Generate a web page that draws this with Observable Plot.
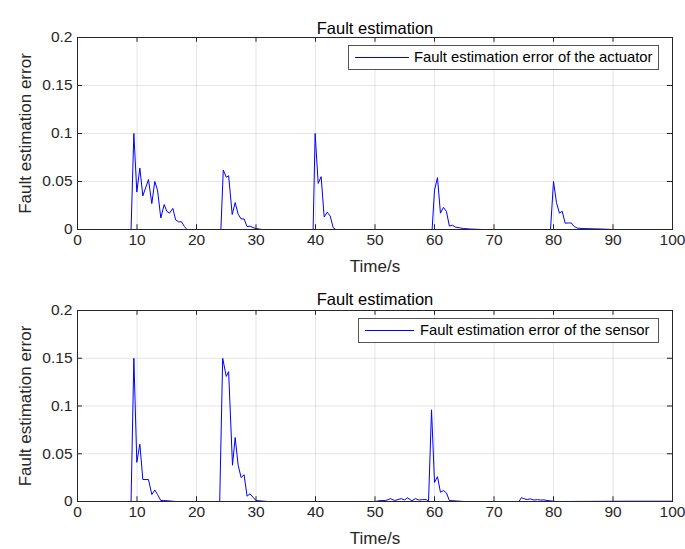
<!DOCTYPE html>
<html>
<head>
<meta charset="utf-8">
<script src="https://cdn.jsdelivr.net/npm/d3@7"></script>
<script src="https://cdn.jsdelivr.net/npm/@observablehq/plot@0.6"></script>
<style>
  body { margin: 0; background: #fff; }
  #wrap { position: relative; width: 685px; height: 549px; font-family: "Liberation Sans", Arial, sans-serif; color: #262626; }
  #wrap svg { display: block; overflow: visible; }
  .legend { position: absolute; background: #fff; border: 1px solid #555; box-sizing: border-box; height: 25px; }
  .legend .sample { position: absolute; top: 11px; height: 1px; background: #0000ff; }
  .legend .lab { position: absolute; top: 3px; font-size: 14.8px; white-space: nowrap; color: #000; }
</style>
</head>
<body>
<div id="wrap"></div>
<script>
// ---- data ----
const chartTitle = "Fault estimation";
const xLabel = "Time/s";
const yLabel = "Fault estimation error";
const xTicks = [0, 10, 20, 30, 40, 50, 60, 70, 80, 90, 100];
const yTicks = [0, 0.05, 0.1, 0.15, 0.2];

const actuatorName = "Fault estimation error of the actuator";
const actuatorTime = [0, 9.0, 9.47, 9.97, 10.48, 10.98, 11.93, 12.49, 12.99, 13.45, 14.0, 14.57, 15.0, 15.46, 16.02, 16.5, 17.0, 17.48, 17.98, 18.4,
  24.1, 24.5, 25.0, 25.4, 26.0, 26.5, 27.0, 27.5, 28.0, 28.5, 29.0, 29.5, 30.0, 31.0,
  39.6, 39.94, 40.45, 40.95, 41.46, 41.97, 42.47, 42.97, 43.4,
  59.6, 60.0, 60.5, 61.0, 61.5, 62.0, 62.5, 63.0, 63.5, 64.4, 64.9, 66.0, 68.0,
  79.5, 80.0, 80.5, 81.0, 81.46, 81.96, 82.5, 83.0, 83.5, 84.0, 84.8, 88.0, 90.0, 100];
const actuatorErr = [0, 0, 0.1, 0.039, 0.064, 0.035, 0.052, 0.027, 0.05, 0.041, 0.012, 0.026, 0.019, 0.017, 0.022, 0.01, 0.008, 0.008, 0.003, 0,
  0, 0.062, 0.0545, 0.056, 0.0156, 0.028, 0.016, 0.011, 0.011, 0.003, 0.0035, 0.002, 0.001, 0,
  0, 0.1, 0.048, 0.055, 0.013, 0.018, 0.014, 0.002, 0,
  0, 0.041, 0.054, 0.017, 0.023, 0.019, 0.0035, 0.0045, 0.0025, 0.0015, 0.001, 0.0005, 0,
  0, 0.05, 0.028, 0.017, 0.019, 0.0066, 0.0068, 0.0068, 0.003, 0.0015, 0.001, 0.0005, 0, 0];

const sensorName = "Fault estimation error of the sensor";
const sensorTime = [0, 9.0, 9.47, 9.97, 10.48, 10.98, 11.93, 12.49, 13.0, 13.45, 14.0, 14.5, 15.6, 16.5,
  23.9, 24.4, 25.0, 25.4, 26.05, 26.5, 27.0, 27.5, 28.0, 28.5, 29.0, 29.5, 30.0, 31.0, 32.0,
  50.0, 50.9, 51.8, 52.6, 53.3, 54.4, 55.0, 55.4, 56.2, 56.8, 57.4, 58.0, 58.6, 59.0,
  59.5, 60.0, 60.5, 61.0, 61.5, 62.0, 62.5, 63.8, 65.0,
  74.2, 74.6, 75.0, 75.6, 76.1, 76.7, 77.3, 77.8, 78.4, 78.9, 79.8, 80.5, 92.4, 100];
const sensorErr = [0, 0, 0.15, 0.041, 0.06, 0.023, 0.023, 0.0073, 0.012, 0.0073, 0.001, 0.001, 0.0005, 0,
  0, 0.15, 0.131, 0.136, 0.038, 0.067, 0.038, 0.025, 0.028, 0.0056, 0.008, 0.0045, 0.001, 0.0005, 0,
  0, 0.001, 0.001, 0.003, 0.001, 0.003, 0.0015, 0.004, 0.0008, 0.003, 0.0015, 0.002, 0.002, 0.0005,
  0.096, 0.02, 0.026, 0.0097, 0.0115, 0.009, 0.001, 0.0005, 0,
  0, 0.004, 0.003, 0.002, 0.0028, 0.0015, 0.002, 0.0015, 0.0017, 0.001, 0.0005, 0, 0.0003, 0.0003];

// ---- drawing ----
const axisColor = "#262626";
function panel(times, errs, {height, marginTop, marginBottom, titleDy}) {
  const data = times.map((t, i) => ({t, e: errs[i]}));
  return Plot.plot({
    width: 685, height, marginTop, marginBottom, marginLeft: 77, marginRight: 13,
    style: {fontFamily: '"Liberation Sans", Arial, sans-serif', fontSize: "15.5px", color: axisColor, background: "#fff", overflow: "visible"},
    x: {domain: [0, 100]},
    y: {domain: [0, 0.2]},
    marks: [
      Plot.gridX(xTicks, {stroke: "#000", strokeOpacity: 0.1}),
      Plot.gridY(yTicks, {stroke: "#000", strokeOpacity: 0.1}),
      Plot.line(data, {x: "t", y: "e", stroke: "#0000ff", strokeWidth: 1}),
      Plot.frame({stroke: axisColor}),
      Plot.ruleX(xTicks, {y1: 0, y2: 0.005, stroke: axisColor}),
      Plot.ruleX(xTicks, {y1: 0.2, y2: 0.195, stroke: axisColor}),
      Plot.ruleY(yTicks, {x1: 0, x2: 0.85, stroke: axisColor}),
      Plot.ruleY(yTicks, {x1: 100, x2: 99.15, stroke: axisColor}),
      Plot.axisX(xTicks, {tickSize: 0, tickPadding: 4, label: null, fontSize: 15.5}),
      Plot.axisY(yTicks, {tickSize: 0, tickPadding: 5, label: null, fontSize: 15.5, tickFormat: d => String(d)}),
      Plot.text([chartTitle], {frameAnchor: "top", dy: titleDy, fontSize: 16.5, fill: "#000"}),
      Plot.text([xLabel], {frameAnchor: "bottom", dy: 42, fontSize: 17, fill: axisColor}),
      Plot.text([yLabel], {frameAnchor: "left", textAnchor: "middle", dx: -52, rotate: -90, fontSize: 17, fill: axisColor})
    ]
  });
}

const wrap = document.getElementById("wrap");
wrap.appendChild(panel(actuatorTime, actuatorErr, {height: 274, marginTop: 37, marginBottom: 45, titleDy: -15}));
wrap.appendChild(panel(sensorTime, sensorErr, {height: 275, marginTop: 36, marginBottom: 48, titleDy: -17}));

function legend(name, left, top, width, sampleW, textLeft) {
  const d = document.createElement("div");
  d.className = "legend";
  d.style.left = left + "px"; d.style.top = top + "px"; d.style.width = width + "px";
  const s = document.createElement("div");
  s.className = "sample"; s.style.left = "6px"; s.style.width = sampleW + "px";
  const l = document.createElement("div");
  l.className = "lab"; l.style.left = textLeft + "px"; l.textContent = name;
  d.appendChild(s); d.appendChild(l);
  wrap.appendChild(d);
}
legend(actuatorName, 348, 45, 311, 54, 65);
legend(sensorName, 358, 318, 301, 49, 61);
</script>
</body>
</html>
